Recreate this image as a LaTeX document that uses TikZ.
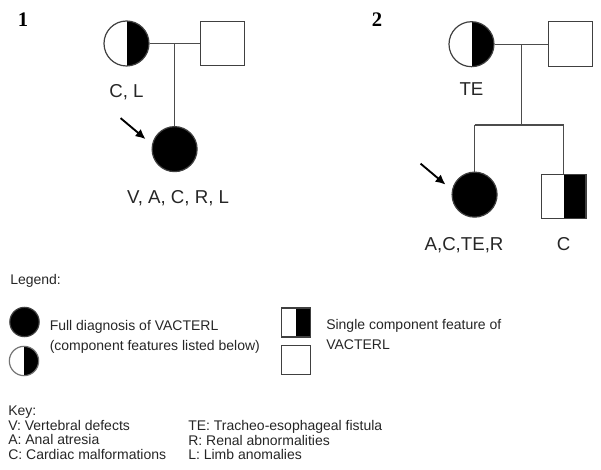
\documentclass[tikz,border=0pt]{standalone}
\usepackage{fontspec}
\setmainfont{Liberation Sans}
\newfontfamily\numfont{Liberation Serif}
\usetikzlibrary{arrows.meta,positioning}

\tikzset{
  person/.style={draw=black!75, line width=0.9pt, inner sep=0pt},
  fem/.style={person, circle, minimum size=33.75pt},
  mal/.style={person, rectangle, minimum size=33.5pt},
  full/.style={fill=black},
  halfr/.style={path picture={\fill[black] (path picture bounding box.north) rectangle (path picture bounding box.south east);}},
  line/.style={draw=black!70, line width=0.8pt},
  pointer/.style={line width=1.4pt, -{Latex[length=7.5pt,width=7pt]}},
  famno/.style={inner sep=0pt, font=\numfont\bfseries\fontsize{15.5}{18}\selectfont},
  lbl/.style={inner sep=0pt, font=\fontsize{14}{16}\selectfont, text=black!85},
  leg/.style={inner sep=0pt, font=\fontsize{10.5}{14.6}\selectfont, text=black!85, align=left},
  keytxt/.style={inner sep=0pt, font=\fontsize{10.5}{11}\selectfont, text=black!85, align=left},
}

\begin{document}
\begin{tikzpicture}[x=0.75pt, y=-0.75pt]
\useasboundingbox (0,0) rectangle (601,470);

% family 1
\node[famno] (n1) at (23,20) {1};
\node[fem, halfr] (m1) at (126.5,43.5) {};
\node[mal, right=37.5pt of m1] (f1) {};
\draw[line] (m1) -- coordinate (j1) (f1);
\node[fem, full, below=61.9pt of j1] (c1) {};
\draw[line] (j1) -- (c1);

\coordinate (a1s) at ([shift={(-54,-31)}]c1.center);
\coordinate (a1e) at ([shift={(-29,-10)}]c1.center);
\draw[pointer] (a1s) -- (a1e);

\node[lbl, below=13pt of m1] (l1m) {C, L};
\node[lbl, below=13.7pt of c1, xshift=2.6pt] (l1c) {V, A, C, R, L};

% family 2
\node[famno] (n2) at (377,20) {2};
\node[fem, halfr] (m2) at (471.5,44.2) {};
\node[mal, right=39.75pt of m2] (f2) {};
\draw[line] (m2) -- coordinate (j2) (f2);
\coordinate[below=60.6pt of j2] (k2);
\coordinate[left=34.9pt of k2] (kl2);
\coordinate[right=31.9pt of k2] (kr2);
\node[fem, full, below=34.9pt of kl2] (d2) {};
\node[mal, halfr, below=36.4pt of kr2] (s2) {};
\draw[line] (j2) -- (k2);
\draw[line] (kl2) -- (kr2);
\draw[line] (kl2) -- (d2);
\draw[line] (kr2) -- (s2);

\coordinate (a2s) at ([shift={(-54,-31)}]d2.center);
\coordinate (a2e) at ([shift={(-29,-10)}]d2.center);
\draw[pointer] (a2s) -- (a2e);

\node[lbl, below=11.4pt of m2] (l2m) {TE};
\node[lbl, below=14.6pt of d2, xshift=-7.9pt] (l2d) {A,C,TE,R};
\node[lbl, anchor=base] (l2s) at (s2 |- l2d.base) {C};

% legend
\node[leg, anchor=west] (lg) at (10,281) {Legend:};
\node[fem, full, minimum size=22pt] (lfull) at (24.5,322) {};
\node[fem, halfr, draw=black!55, minimum size=22pt] (lhalf) at (24,361) {};
\node[leg, anchor=north west] (tfull) at (49.5,320.5) {Full diagnosis of VACTERL\\(component features listed below)};
\node[mal, halfr, minimum size=21.75pt] (lhs) at (296,322.5) {};
\node[mal, minimum size=21.75pt] (les) at (296,360) {};
\node[leg, anchor=north west] (tsingle) at (326,319.5) {Single component feature of\\VACTERL};

% key
\node[keytxt, anchor=north west] (kleft) at (8,405.5) {Key:\\V: Vertebral defects\\A: Anal atresia\\C: Cardiac malformations};
\node[keytxt, anchor=north west] (kright) at (188,420.2) {TE: Tracheo-esophageal fistula\\R: Renal abnormalities\\L: Limb anomalies};

\end{tikzpicture}
\end{document}
